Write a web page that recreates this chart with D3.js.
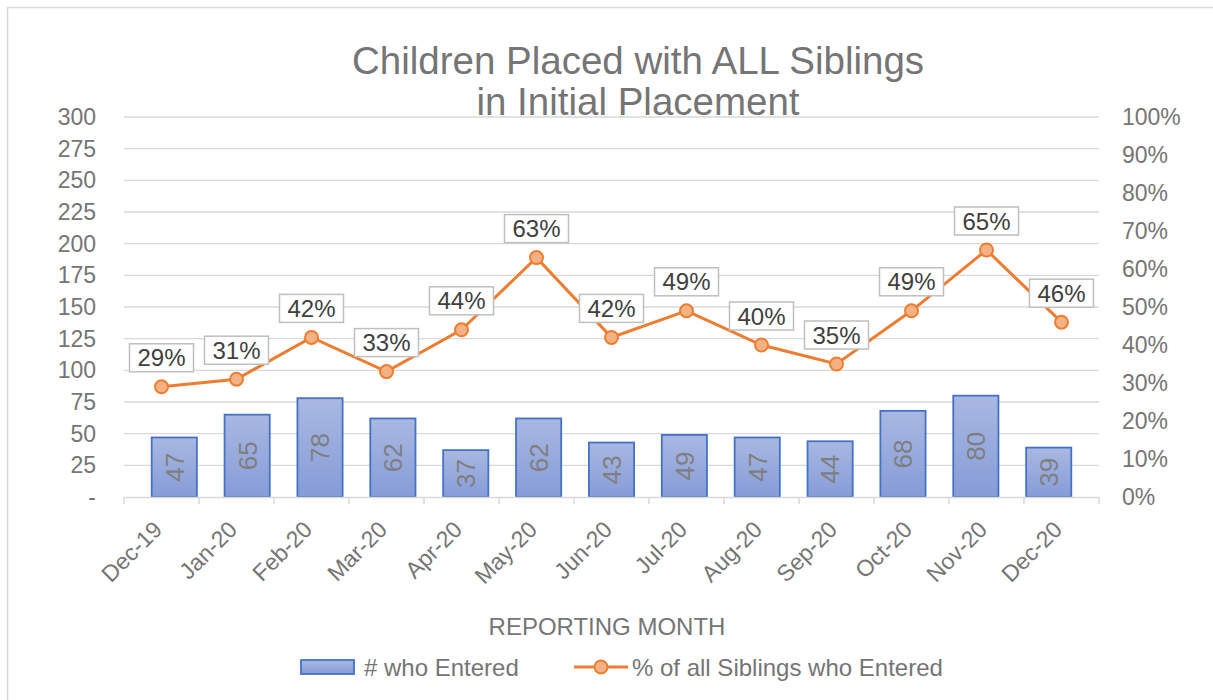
<!DOCTYPE html>
<html>
<head>
<meta charset="utf-8">
<script src="https://cdn.jsdelivr.net/npm/d3@7"></script>
<style>
  body { margin: 0; background: #fff; }
  svg { font-family: "Liberation Sans", Arial, sans-serif; }
</style>
</head>
<body>
<script>
var months = ["Dec-19", "Jan-20", "Feb-20", "Mar-20", "Apr-20", "May-20", "Jun-20",
              "Jul-20", "Aug-20", "Sep-20", "Oct-20", "Nov-20", "Dec-20"];
var entered = [47, 65, 78, 62, 37, 62, 43, 49, 47, 44, 68, 80, 39];
var pctSiblings = [0.29, 0.31, 0.42, 0.33, 0.44, 0.63, 0.42, 0.49, 0.40, 0.35, 0.49, 0.65, 0.46];
var leftTicks = [0, 25, 50, 75, 100, 125, 150, 175, 200, 225, 250, 275, 300];
var rightTicks = [0, 0.1, 0.2, 0.3, 0.4, 0.5, 0.6, 0.7, 0.8, 0.9, 1.0];

var W = 1213, H = 700;
var plot = {left: 124, right: 1099, top: 117, bottom: 497};

var svg = d3.select("body").append("svg")
  .attr("width", W).attr("height", H);

// chart border
svg.append("rect")
  .attr("x", 7.5).attr("y", 7.5)
  .attr("width", W + 10).attr("height", H + 10)
  .attr("fill", "#fff").attr("stroke", "#d9d9d9").attr("stroke-width", 1.5);

var defs = svg.append("defs");
var grad = defs.append("linearGradient").attr("id", "barGrad")
  .attr("x1", 0).attr("y1", 0).attr("x2", 0).attr("y2", 1);
grad.append("stop").attr("offset", "0%").attr("stop-color", "#a9b8e2");
grad.append("stop").attr("offset", "100%").attr("stop-color", "#869cd8");

var x = d3.scaleBand().domain(months).range([plot.left, plot.right]).padding(0.38);
var xOuter = d3.scaleBand().domain(months).range([plot.left, plot.right]).padding(0);
var y = d3.scaleLinear().domain([0, 300]).range([plot.bottom, plot.top]);
var y2 = d3.scaleLinear().domain([0, 1]).range([plot.bottom, plot.top]);

// title
var title = svg.append("text")
  .attr("text-anchor", "middle")
  .attr("fill", "#757575").attr("font-size", 38.5);
title.append("tspan").attr("x", 638).attr("y", 74).text("Children Placed with ALL Siblings");
title.append("tspan").attr("x", 638).attr("y", 115).text("in Initial Placement");

// gridlines
svg.append("g").selectAll("line")
  .data(leftTicks.filter(function(d) { return d > 0; }))
  .enter().append("line")
  .attr("x1", plot.left).attr("x2", plot.right)
  .attr("y1", function(d) { return y(d); }).attr("y2", function(d) { return y(d); })
  .attr("stroke", "#d9d9d9").attr("stroke-width", 1.3);

// left axis
var axL = svg.append("g")
  .attr("transform", "translate(" + plot.left + ",0)")
  .call(d3.axisLeft(y).tickValues(leftTicks).tickSize(0).tickPadding(28)
    .tickFormat(function(d) { return d === 0 ? "-" : d; }));
axL.select(".domain").remove();
axL.selectAll("text").attr("font-size", 23).attr("fill", "#757575")
  .attr("font-family", "Liberation Sans, Arial, sans-serif");

// right axis
var axR = svg.append("g")
  .attr("transform", "translate(" + plot.right + ",0)")
  .call(d3.axisRight(y2).tickValues(rightTicks).tickSize(0).tickPadding(23)
    .tickFormat(d3.format(".0%")));
axR.select(".domain").remove();
axR.selectAll("text").attr("font-size", 23).attr("fill", "#757575").attr("text-anchor", "start")
  .attr("font-family", "Liberation Sans, Arial, sans-serif");

// bars
svg.append("g").selectAll("rect")
  .data(entered)
  .enter().append("rect")
  .attr("x", function(d, i) { return x(months[i]); })
  .attr("y", function(d) { return y(d); })
  .attr("width", x.bandwidth())
  .attr("height", function(d) { return y(0) - y(d); })
  .attr("fill", "url(#barGrad)")
  .attr("stroke", "#4472c4").attr("stroke-width", 1.8);

// bar labels
svg.append("g").selectAll("text")
  .data(entered)
  .enter().append("text")
  .attr("transform", function(d, i) {
    var cx = x(months[i]) + x.bandwidth() / 2;
    var cy = (y(d) + y(0)) / 2;
    return "translate(" + cx + "," + cy + ") rotate(-90)";
  })
  .attr("text-anchor", "middle").attr("dy", "0.36em")
  .attr("font-size", 26).attr("fill", "#7f7f7f")
  .text(function(d) { return d; });

// x axis
var axB = svg.append("g")
  .attr("transform", "translate(0," + plot.bottom + ")")
  .call(d3.axisBottom(xOuter).tickSize(0).tickFormat(""));
axB.select(".domain").attr("stroke", "#d9d9d9").attr("stroke-width", 1.5);
var tickXs = months.map(function(m) { return xOuter(m); }).concat([plot.right]);
svg.append("g").selectAll("line")
  .data(tickXs).enter().append("line")
  .attr("x1", function(d) { return d; }).attr("x2", function(d) { return d; })
  .attr("y1", plot.bottom).attr("y2", plot.bottom + 7)
  .attr("stroke", "#d9d9d9").attr("stroke-width", 1.5);

svg.append("g").selectAll("text")
  .data(months).enter().append("text")
  .attr("transform", function(d) {
    var cx = xOuter(d) + xOuter.bandwidth() / 2 + 2;
    return "translate(" + cx + "," + (plot.bottom + 34) + ") rotate(-45)";
  })
  .attr("text-anchor", "end")
  .attr("font-size", 23).attr("fill", "#757575")
  .text(function(d) { return d; });

// axis title
svg.append("text")
  .attr("x", 607).attr("y", 635).attr("text-anchor", "middle")
  .attr("font-size", 24).attr("fill", "#757575")
  .text("REPORTING MONTH");

// line
var cxOf = function(i) { return xOuter(months[i]) + xOuter.bandwidth() / 2; };
var line = d3.line()
  .x(function(d, i) { return cxOf(i); })
  .y(function(d) { return y2(d); });
svg.append("path")
  .datum(pctSiblings)
  .attr("d", line)
  .attr("fill", "none").attr("stroke", "#ed7d31").attr("stroke-width", 3);

svg.append("g").selectAll("circle")
  .data(pctSiblings).enter().append("circle")
  .attr("cx", function(d, i) { return cxOf(i); })
  .attr("cy", function(d) { return y2(d); })
  .attr("r", 6.5)
  .attr("fill", "#f4b183").attr("stroke", "#ed7d31").attr("stroke-width", 2);

// data labels for the line
var lbl = svg.append("g").selectAll("g")
  .data(pctSiblings).enter().append("g")
  .attr("transform", function(d, i) {
    return "translate(" + cxOf(i) + "," + (y2(d) - 29) + ")";
  });
lbl.append("rect")
  .attr("x", -32).attr("y", -14).attr("width", 64).attr("height", 28)
  .attr("fill", "#fff").attr("stroke", "#bfbfbf").attr("stroke-width", 1.5);
lbl.append("text")
  .attr("text-anchor", "middle").attr("dy", "0.36em")
  .attr("font-size", 24).attr("fill", "#404040")
  .text(function(d) { return Math.round(d * 100) + "%"; });

// legend
var leg = svg.append("g");
leg.append("rect")
  .attr("x", 301).attr("y", 660).attr("width", 53).attr("height", 14)
  .attr("fill", "url(#barGrad)").attr("stroke", "#4472c4").attr("stroke-width", 1.8);
leg.append("text")
  .attr("x", 364).attr("y", 676).attr("font-size", 24).attr("fill", "#757575")
  .text("# who Entered");
leg.append("line")
  .attr("x1", 574).attr("x2", 628).attr("y1", 667).attr("y2", 667)
  .attr("stroke", "#ed7d31").attr("stroke-width", 3);
leg.append("circle")
  .attr("cx", 601).attr("cy", 667).attr("r", 6.5)
  .attr("fill", "#f4b183").attr("stroke", "#ed7d31").attr("stroke-width", 2);
leg.append("text")
  .attr("x", 632).attr("y", 676).attr("font-size", 24).attr("fill", "#757575")
  .text("% of all Siblings who Entered");
</script>
</body>
</html>
